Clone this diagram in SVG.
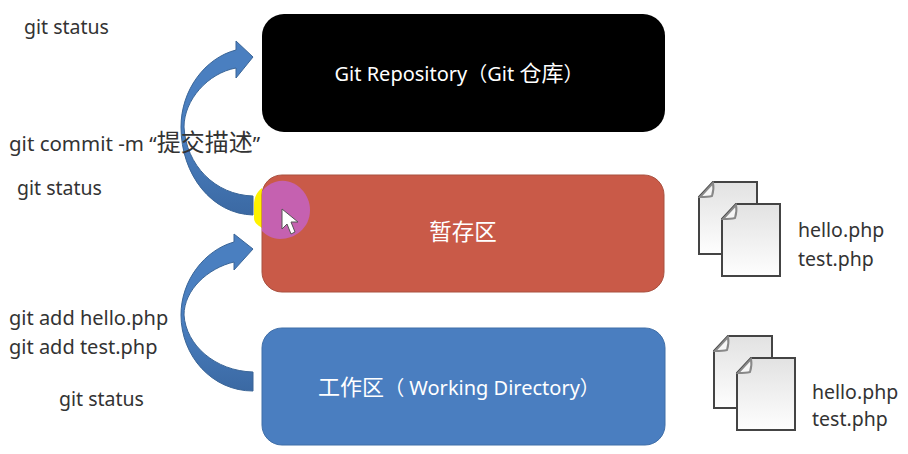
<svg xmlns="http://www.w3.org/2000/svg" width="908" height="454" viewBox="0 0 908 454">
<defs>
<linearGradient id="pg" x1="0" y1="0" x2="0" y2="1"><stop offset="0" stop-color="#e2e2e2"/><stop offset="1" stop-color="#fefefe"/></linearGradient>
<linearGradient id="ag" x1="0" y1="0" x2="0" y2="1"><stop offset="0" stop-color="#4a7fc0"/><stop offset="0.55" stop-color="#4a7fc0"/><stop offset="1" stop-color="#3b69a3"/></linearGradient>
<g id="doc">
<path d="M14 0H58V72H0V15Z" fill="url(#pg)" stroke="#444" stroke-width="2"/>
<path d="M14 1C15 6 14 11 13 14C9 15 5 15 1 15Z" fill="#f6f6f6" stroke="#888" stroke-width="2"/>
</g>
</defs>
<style>
text{font-family:"Noto Sans","Noto Sans CJK SC",sans-serif;font-size:19.5px;fill:#333}
.w{fill:#fff;text-anchor:middle}
.c{font-size:22px}
.a{fill:url(#ag);stroke:#3a6597;stroke-width:1}
.l{font-size:20px}
</style>
<rect width="908" height="454" fill="#fff"/>
<g id="connectors">
<path class="a" d="M253 57L236 41V50C205 58 181 90 181 127C181 175 212 214 253 215V196C215 195 186 165 184 127C184 100 208 73 236 68V78Z"/>
<path class="a" d="M253 249L234 234V242C205 250 181 280 181 315C181 356 212 391 253 391V372C215 371 186 345 184 315C184 290 208 268 234 262V270Z"/>
</g>
<g id="repo">
<rect x="262" y="14" width="403" height="118" rx="22" fill="#000"/>
<text class="w l" x="459" y="81">Git Repository（Git <tspan class="c" fill="#fff">仓库</tspan>）</text>
</g>
<g id="stage">
<path d="M262 188C257 192 254 197 254 205V218C254 222 257 225 262 228Z" fill="#fff200"/>
<rect x="262" y="175" width="402" height="117" rx="20" fill="#c95a48" stroke="#a9503f" stroke-width="1"/>
<path d="M262 191A30 30 0 0 1 275 182C293 176 310 192 310 210C310 228 295 239 280 239C272 239 266 235 262 231Z" fill="#c561b0"/>
<path d="M282 209V229L287 224L291 234L295 232L291 222L298 222Z" fill="#fff" stroke="#555" stroke-width="1"/>
<text class="w" x="463" y="240" style="font-size:22.5px">暂存区</text>
</g>
<g id="work">
<rect x="262" y="328" width="403" height="117" rx="20" fill="#4a7ec0" stroke="#3f6ea8" stroke-width="1"/>
<text class="w l" x="459" y="395"><tspan class="c" fill="#fff">工作区</tspan>（ Working Directory）</text>
</g>
<g id="stage-files">
<use href="#doc" x="699" y="182"/>
<use href="#doc" x="722" y="204"/>
<text x="798" y="237">hello.php</text>
<text x="798" y="266">test.php</text>
</g>
<g id="work-files">
<use href="#doc" x="714" y="336"/>
<use href="#doc" x="737" y="358"/>
<text x="812" y="399">hello.php</text>
<text x="812" y="426">test.php</text>
</g>
<g id="commands">
<text x="24" y="34">git status</text>
<text x="9" y="151" style="font-size:20.5px">git commit -m “<tspan style="font-size:24px">提交描述</tspan>”</text>
<text x="17" y="195">git status</text>
<text class="l" x="9" y="325">git add hello.php</text>
<text class="l" x="9" y="354">git add test.php</text>
<text x="59" y="406">git status</text>
</g>
</svg>
